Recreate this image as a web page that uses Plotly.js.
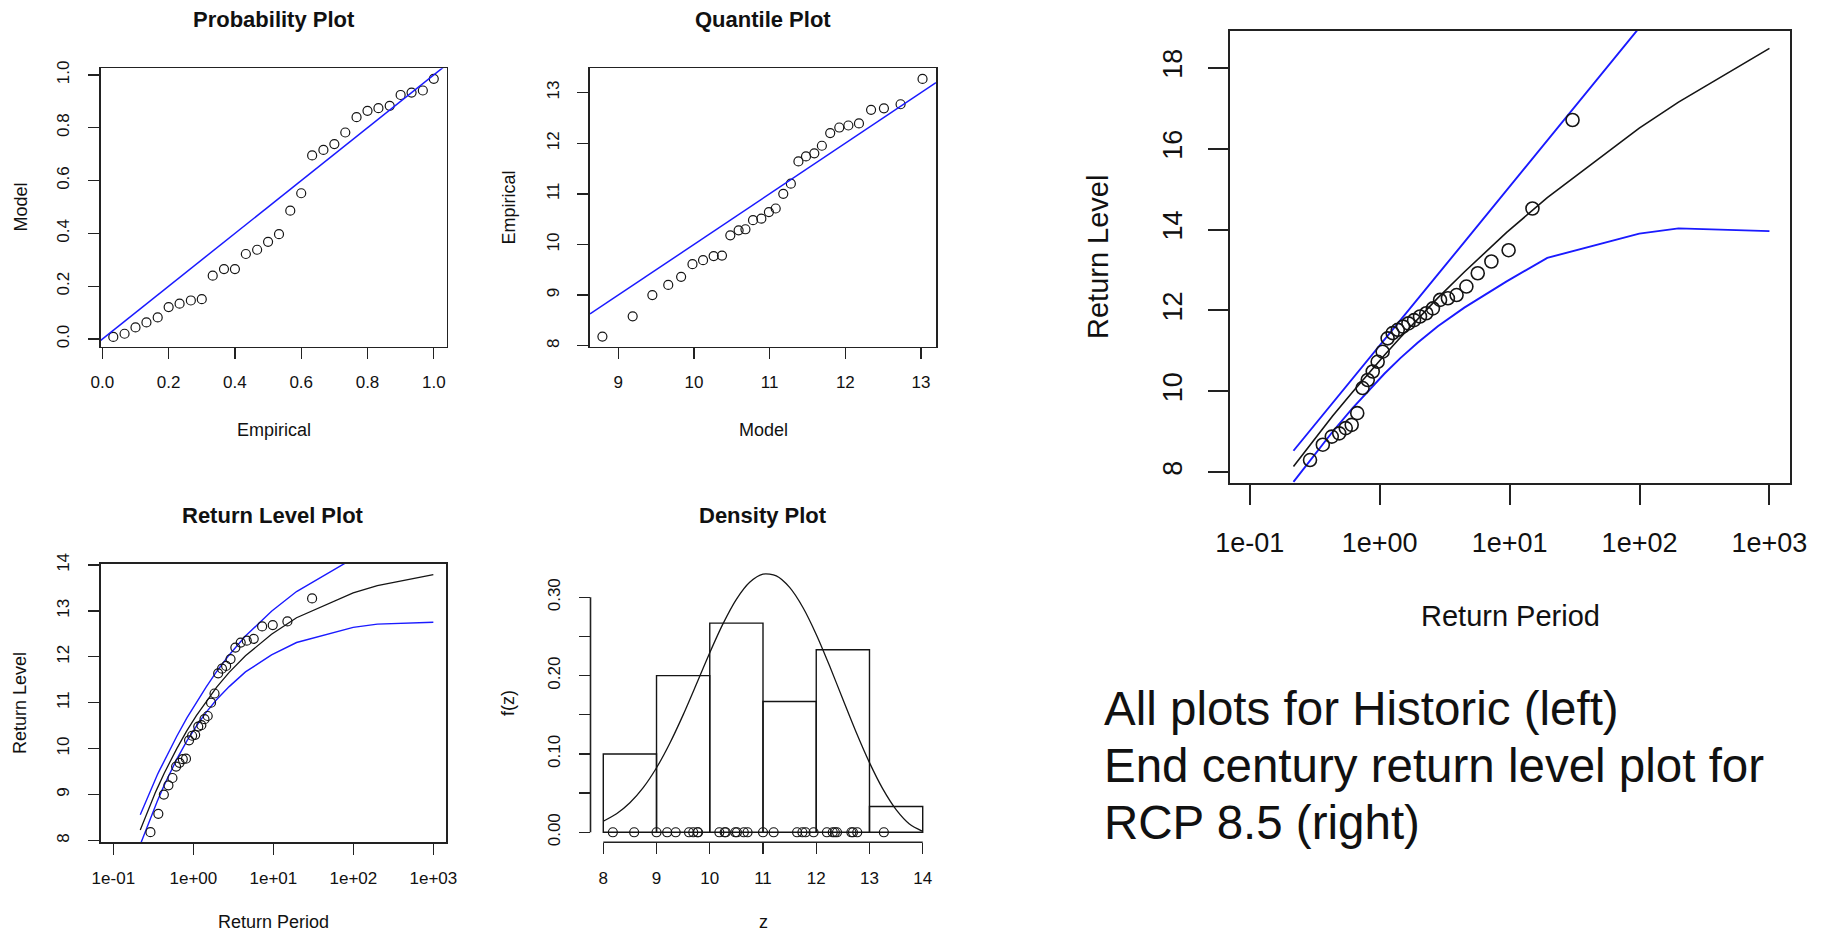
<!DOCTYPE html>
<html>
<head>
<meta charset="utf-8">
<script src="https://cdn.plot.ly/plotly-3.0.1.min.js"></script>
<style>
html,body{margin:0;padding:0;background:#ffffff;}
#chart{width:1832px;height:935px;}
</style>
</head>
<body>
<div id="chart"></div>
<script>
// ---------------- data ----------------
// Probability plot
const ppEmpirical = [0.033,0.067,0.100,0.133,0.167,0.200,0.233,0.267,0.300,0.333,0.367,0.400,0.433,0.467,0.500,0.533,0.567,0.600,0.633,0.667,0.700,0.733,0.767,0.800,0.833,0.867,0.900,0.933,0.967,1.000];
const ppModel = [0.008,0.020,0.044,0.063,0.082,0.121,0.134,0.146,0.151,0.240,0.265,0.265,0.322,0.338,0.368,0.397,0.486,0.552,0.695,0.716,0.738,0.782,0.840,0.864,0.874,0.883,0.924,0.933,0.941,0.985];

// Quantile plot (model quantiles vs sorted historic data)
const qqModel = [8.79,9.19,9.45,9.66,9.83,9.98,10.12,10.26,10.37,10.48,10.59,10.68,10.78,10.89,10.99,11.08,11.18,11.28,11.38,11.48,11.59,11.69,11.80,11.92,12.04,12.18,12.34,12.51,12.73,13.02];
const histData = [8.18,8.58,9.00,9.20,9.36,9.61,9.69,9.77,9.78,10.18,10.28,10.30,10.48,10.51,10.64,10.71,11.00,11.20,11.64,11.74,11.80,11.95,12.20,12.31,12.35,12.39,12.66,12.69,12.77,13.27];

// Return level plots: empirical return periods of the 30 sorted values
const empPeriods = [0.291,0.365,0.428,0.488,0.548,0.609,0.672,0.738,0.809,0.884,0.965,1.054,1.151,1.258,1.378,1.512,1.664,1.839,2.043,2.282,2.568,2.916,3.350,3.907,4.649,5.685,7.239,9.825,14.99,30.50];
// return periods at which the fitted curves are drawn
const curvePeriods = [0.217,0.256,0.285,0.311,0.334,0.355,0.376,0.396,0.415,0.434,0.621,0.831,1.091,1.443,1.958,2.804,4.481,9.491,19.50,99.50,199.5,999.5];

// Historic return level (left)
const histLevel = [8.23,8.55,8.76,8.91,9.04,9.14,9.24,9.32,9.40,9.47,10.00,10.39,10.72,11.03,11.34,11.66,12.02,12.49,12.85,13.39,13.55,13.79];
const histLower = [7.91,8.24,8.46,8.61,8.75,8.86,8.96,9.05,9.13,9.21,9.77,10.17,10.49,10.79,11.07,11.35,11.67,12.04,12.31,12.64,12.71,12.75];
const histUpper = [8.56,8.86,9.06,9.20,9.33,9.43,9.52,9.60,9.68,9.75,10.27,10.67,11.01,11.34,11.68,12.04,12.45,12.99,13.42,14.14,14.39,14.84];

// Density plot
const densBreaks = [8,9,10,11,12,13,14];
const densHeights = [0.100,0.200,0.267,0.167,0.233,0.033];
const densX = [8.00,8.25,8.50,8.75,9.00,9.25,9.50,9.75,10.00,10.25,10.50,10.75,11.00,11.25,11.50,11.75,12.00,12.25,12.50,12.75,13.00,13.25,13.50,13.75,14.00];
const densY = [0.0141,0.0236,0.0376,0.0570,0.0824,0.1137,0.1499,0.1893,0.2293,0.2664,0.2974,0.3191,0.3295,0.3273,0.3126,0.2870,0.2526,0.2125,0.1698,0.1277,0.0889,0.0554,0.0290,0.0107,0.0012];

// End-century RCP 8.5 return level (right)
const rcpData = [8.30,8.68,8.88,8.96,9.09,9.17,9.46,10.08,10.28,10.49,10.73,10.98,11.31,11.44,11.52,11.60,11.68,11.76,11.85,11.93,12.05,12.26,12.30,12.38,12.59,12.92,13.21,13.49,14.52,16.71];
const rcpLevel = [8.14,8.44,8.64,8.80,8.92,9.03,9.14,9.23,9.31,9.39,9.99,10.47,10.90,11.33,11.79,12.31,12.95,13.93,14.79,16.51,17.15,18.48];
const rcpLower = [7.76,8.06,8.26,8.42,8.54,8.65,8.75,8.84,8.92,9.00,9.59,10.04,10.44,10.82,11.20,11.61,12.07,12.72,13.30,13.90,14.03,13.96];
const rcpUpper = [8.53,8.81,8.99,9.14,9.26,9.37,9.46,9.55,9.63,9.71,10.32,10.82,11.28,11.76,12.28,12.89,13.69,14.98,16.20,18.99,20.17,22.93];

// tick values / labels
const probTicks = [0,0.2,0.4,0.6,0.8,1.0];
const probTickText = ['0.0','0.2','0.4','0.6','0.8','1.0'];
const qqXTicks = [9,10,11,12,13];
const qqYTicks = [8,9,10,11,12,13];
const periodTicks = [0.1,1,10,100,1000];
const periodTickText = ['1e-01','1e+00','1e+01','1e+02','1e+03'];
const histLevelTicks = [8,9,10,11,12,13,14];
const densXTicks = [8,9,10,11,12,13,14];
const densYTicks = [0,0.05,0.10,0.15,0.20,0.25,0.30];
const densYTickText = ['0.00','','0.10','','0.20','','0.30'];
const rcpLevelTicks = [8,10,12,14,16,18];

// ---------------- styling / layout helpers ----------------
const W = 1832, H = 935;
const FONT = '"Liberation Sans", Arial, Helvetica, sans-serif';
const INK = '#151515';
const BLUE = '#1a1aff';
const px = v => v / W;
const py = v => 1 - v / H;

function axis(o) {
  return Object.assign({
    showgrid: false, zeroline: false, showline: true, mirror: true,
    linecolor: '#222', linewidth: 1.6,
    ticks: 'outside', ticklen: 11, tickwidth: 1.4, tickcolor: '#222',
    tickfont: {family: FONT, size: 17, color: '#111'},
    ticklabelstandoff: 12,
    fixedrange: true
  }, o);
}
function openCircles(size, width) {
  return {symbol: 'circle-open', size: size, color: INK, line: {width: width, color: INK}};
}
function label(text, x, y, size, extra) {
  return Object.assign({
    text: text, x: px(x), y: py(y), xref: 'paper', yref: 'paper',
    showarrow: false, xanchor: 'center', yanchor: 'middle',
    font: {family: FONT, size: size, color: '#111'}
  }, extra || {});
}

// axis ranges (R style: data range extended 4 %)
const p1X = [-0.005, 1.039], p1Y = [-0.029, 1.025];
const p2X = [8.626, 13.198], p2Y = [7.98, 13.48];
const p3X = [-1.158, 3.158], p3Y = [7.96, 14.02];
const p4X = [7.76, 14.24], p4Y = [-0.0128, 0.3425];
const p5X = [-1.152, 3.158], p5Y = [7.74, 18.91];

const traces = [
  // Probability plot
  {x: ppEmpirical, y: ppModel, mode: 'markers', marker: openCircles(9, 1.2), xaxis: 'x', yaxis: 'y'},
  {x: p1X, y: p1X, mode: 'lines', line: {color: BLUE, width: 1.5}, xaxis: 'x', yaxis: 'y'},
  // Quantile plot
  {x: qqModel, y: histData, mode: 'markers', marker: openCircles(9, 1.2), xaxis: 'x2', yaxis: 'y2'},
  {x: p2X, y: p2X, mode: 'lines', line: {color: BLUE, width: 1.5}, xaxis: 'x2', yaxis: 'y2'},
  // Return level plot (historic)
  {x: curvePeriods, y: histLevel, mode: 'lines', line: {color: INK, width: 1.3}, xaxis: 'x3', yaxis: 'y3'},
  {x: curvePeriods, y: histUpper, mode: 'lines', line: {color: BLUE, width: 1.4}, xaxis: 'x3', yaxis: 'y3'},
  {x: curvePeriods, y: histLower, mode: 'lines', line: {color: BLUE, width: 1.4}, xaxis: 'x3', yaxis: 'y3'},
  {x: empPeriods, y: histData, mode: 'markers', marker: openCircles(9, 1.2), xaxis: 'x3', yaxis: 'y3'},
  // Density plot
  {type: 'bar', x: densBreaks.slice(0, -1).map((b, i) => (b + densBreaks[i + 1]) / 2), y: densHeights,
   width: densBreaks.slice(1).map((b, i) => b - densBreaks[i]),
   marker: {color: 'rgba(255,255,255,0)', line: {color: INK, width: 1.4}}, xaxis: 'x4', yaxis: 'y4'},
  {x: densX, y: densY, mode: 'lines', line: {color: INK, width: 1.3, shape: 'spline', smoothing: 0.8}, xaxis: 'x4', yaxis: 'y4'},
  {x: histData, y: histData.map(() => 0), mode: 'markers', marker: openCircles(9, 1.2), xaxis: 'x4', yaxis: 'y4'},
  // RCP 8.5 return level plot
  {x: curvePeriods, y: rcpLevel, mode: 'lines', line: {color: INK, width: 1.6}, xaxis: 'x5', yaxis: 'y5'},
  {x: curvePeriods, y: rcpUpper, mode: 'lines', line: {color: BLUE, width: 1.9}, xaxis: 'x5', yaxis: 'y5'},
  {x: curvePeriods, y: rcpLower, mode: 'lines', line: {color: BLUE, width: 1.9}, xaxis: 'x5', yaxis: 'y5'},
  {x: empPeriods, y: rcpData, mode: 'markers', marker: openCircles(13, 1.6), xaxis: 'x5', yaxis: 'y5'}
];

const bigTickFont = {family: FONT, size: 27, color: '#111'};

const layout = {
  width: W, height: H,
  margin: {l: 0, r: 0, t: 0, b: 0},
  paper_bgcolor: '#ffffff', plot_bgcolor: '#ffffff',
  showlegend: false,
  bargap: 0,
  font: {family: FONT, color: '#111'},
  // Probability plot
  xaxis: axis({domain: [px(100.7), px(446.7)], range: p1X, anchor: 'y', tickvals: probTicks, ticktext: probTickText, ticklabelstandoff: 8}),
  yaxis: axis({domain: [py(346.7), py(68.3)], range: p1Y, anchor: 'x', tickvals: probTicks, ticktext: probTickText, tickangle: -90, ticklabelstandoff: 12}),
  // Quantile plot
  xaxis2: axis({domain: [px(590), px(936)], range: p2X, anchor: 'y2', tickvals: qqXTicks, ticklabelstandoff: 8}),
  yaxis2: axis({domain: [py(346.7), py(68.3)], range: p2Y, anchor: 'x2', tickvals: qqYTicks, tickangle: -90, ticklabelstandoff: 12}),
  // Return level (historic)
  xaxis3: axis({domain: [px(100.7), px(446)], range: p3X, type: 'log', anchor: 'y3', tickvals: periodTicks, ticktext: periodTickText, ticklabelstandoff: 9}),
  yaxis3: axis({domain: [py(842.3), py(564)], range: p3Y, anchor: 'x3', tickvals: histLevelTicks, tickangle: -90, ticklabelstandoff: 12}),
  // Density
  xaxis4: axis({domain: [px(590.5), px(935.5)], range: p4X, anchor: 'y4', showline: false, mirror: false, tickvals: densXTicks, ticklabelstandoff: 9}),
  yaxis4: axis({domain: [py(842.3), py(564)], range: p4Y, anchor: 'x4', showline: false, mirror: false, tickvals: densYTicks, ticktext: densYTickText, tickangle: -90, ticklabelstandoff: 12}),
  // RCP 8.5
  xaxis5: axis({domain: [px(1230), px(1790)], range: p5X, type: 'log', anchor: 'y5', tickvals: periodTicks, ticktext: periodTickText,
                ticklen: 20, tickwidth: 2, linewidth: 2.2, tickfont: bigTickFont, ticklabelstandoff: 15}),
  yaxis5: axis({domain: [py(482.7), py(31)], range: p5Y, anchor: 'x5', tickvals: rcpLevelTicks, tickangle: -90,
                ticklen: 20, tickwidth: 2, linewidth: 2.2, tickfont: bigTickFont, ticklabelstandoff: 15}),
  shapes: [
    // density plot axis lines (R draws them only between first and last tick)
    {type: 'line', xref: 'x4 domain', yref: 'y4', x0: 0, x1: 0, y0: densYTicks[0], y1: densYTicks[densYTicks.length - 1], line: {color: '#222', width: 1.6}},
    {type: 'line', xref: 'x4', yref: 'y4 domain', x0: densXTicks[0], x1: densXTicks[densXTicks.length - 1], y0: 0, y1: 0, line: {color: '#222', width: 1.6}}
  ],
  annotations: [
    label('<b>Probability Plot</b>', 273.7, 20, 22),
    label('<b>Quantile Plot</b>', 763, 20, 22),
    label('<b>Return Level Plot</b>', 273.4, 515, 22),
    label('<b>Density Plot</b>', 763, 515, 22),
    label('Empirical', 273.7, 430, 18),
    label('Model', 20, 207.5, 18, {textangle: -90}),
    label('Model', 763, 430, 18),
    label('Empirical', 508, 207.5, 18, {textangle: -90}),
    label('Return Period', 273.4, 922, 18),
    label('Return Level', 20, 703, 18, {textangle: -90}),
    label('z', 763, 922, 18),
    label('f(z)', 508, 703, 18, {textangle: -90}),
    label('Return Period', 1510, 616, 29),
    label('Return Level', 1098, 257, 29, {textangle: -90}),
    label('All plots for Historic (left)', 1102, 708, 47.5, {xanchor: 'left'}),
    label('End century return level plot for', 1102, 765, 47.5, {xanchor: 'left'}),
    label('RCP 8.5 (right)', 1102, 822, 47.5, {xanchor: 'left'})
  ]
};

Plotly.newPlot('chart', traces, layout, {staticPlot: true, displayModeBar: false});
</script>
</body>
</html>
